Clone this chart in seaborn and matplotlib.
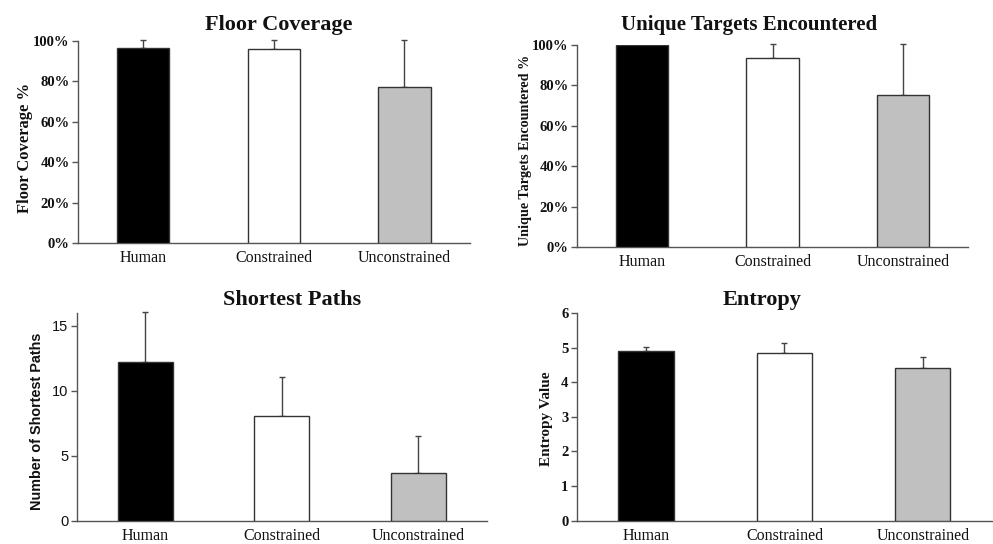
import matplotlib
matplotlib.use("Agg")
import matplotlib.pyplot as plt
import seaborn as sns
import pandas as pd
import numpy as np
from matplotlib.ticker import PercentFormatter, MultipleLocator

categories = ["Human", "Constrained", "Unconstrained"]

floor_mean = [96.5, 96.0, 77.0]
floor_err = [4.0, 4.5, 23.5]

targets_mean = [100.0, 93.5, 75.0]
targets_err = [0.0, 7.0, 25.5]

paths_mean = [12.2, 8.1, 3.65]
paths_err = [3.9, 3.0, 2.85]

entropy_mean = [4.89, 4.84, 4.41]
entropy_err = [0.14, 0.29, 0.32]

colors = ["#000000", "#ffffff", "#c0c0c0"]

sns.set_theme(style="white")
plt.rcParams["font.family"] = ["Liberation Serif", "DejaVu Serif"]

fig = plt.figure(figsize=(9.93, 5.44), dpi=100)

SERIF = ["Liberation Serif", "DejaVu Serif"]
SANS = ["Liberation Sans", "DejaVu Sans"]

panels = [
    dict(title="Floor Coverage", ylabel="Floor Coverage %", mean=floor_mean, err=floor_err,
         pos=[0.0785, 0.5533, 0.3945, 0.3713], ylim=(0, 100), step=20, pct=True,
         ylfs=12, tickfam=SERIF, ylfam=SERIF, tfs=16, tx=0.513, ty=1.079, lx=-0.115, ly=0.47),
    dict(title="Unique Targets Encountered", ylabel="Unique Targets Encountered %", mean=targets_mean,
         err=targets_err, pos=[0.581, 0.546, 0.394, 0.3713], ylim=(0, 100), step=20, pct=True,
         ylfs=10.2, tickfam=SERIF, ylfam=SERIF, tfs=15, tx=0.441, ty=1.099, lx=-0.115, ly=0.48),
    dict(title="Shortest Paths", ylabel="Number of Shortest Paths", mean=paths_mean, err=paths_err,
         pos=[0.0775, 0.0428, 0.4125, 0.3818], ylim=(0, 16), step=5, pct=False,
         ylfs=10.4, tickfam=SANS, ylfam=SANS, tfs=16, tx=0.526, ty=1.062, lx=-0.081, ly=0.48),
    dict(title="Entropy", ylabel="Entropy Value", mean=entropy_mean, err=entropy_err,
         pos=[0.581, 0.0428, 0.418, 0.3818], ylim=(0, 6), step=1, pct=False,
         ylfs=11, tickfam=SERIF, ylfam=SERIF, tfs=16, tx=0.446, ty=1.062, lx=-0.058, ly=0.49),
]

for p in panels:
    ax = fig.add_axes(p["pos"])
    df = pd.DataFrame({"cat": categories, "val": p["mean"]})
    sns.barplot(data=df, x="cat", y="val", hue="cat", palette=colors, order=categories,
                hue_order=categories, width=0.4, edgecolor="#333333", linewidth=1.0,
                errorbar=None, legend=False, ax=ax, zorder=3)
    xs = np.arange(len(categories))
    m = np.array(p["mean"])
    e = np.array(p["err"])
    keep = e > 0
    ax.errorbar(xs[keep], m[keep], yerr=[np.zeros(keep.sum()), e[keep]], fmt="none",
                ecolor="#444444", elinewidth=1.0, capsize=2.2, capthick=1.0, clip_on=False,
                zorder=2)
    ax.set_xlim(-0.5, 2.5)
    ax.set_ylim(*p["ylim"])
    ax.yaxis.set_major_locator(MultipleLocator(p["step"]))
    if p["pct"]:
        ax.yaxis.set_major_formatter(PercentFormatter(xmax=100, decimals=0))
    for s in ["top", "right"]:
        ax.spines[s].set_visible(False)
    for s in ["left", "bottom"]:
        ax.spines[s].set_color("#555555")
        ax.spines[s].set_linewidth(1.0)
    ax.tick_params(axis="y", direction="out", length=4, width=1, color="#555555", pad=2,
                   left=True)
    ax.tick_params(axis="x", length=0, pad=5)
    ax.set_xlabel("")
    ax.set_ylabel(p["ylabel"], family=p["ylfam"], fontweight="bold", fontsize=p["ylfs"],
                  color="#111111")
    ax.yaxis.set_label_coords(p["lx"], p["ly"])
    ax.set_title(p["title"], family=SERIF, fontweight="bold", fontsize=p["tfs"],
                 color="#111111", x=p["tx"], y=p["ty"], va="center", pad=0)
    for lab in ax.get_yticklabels():
        lab.set_family(p["tickfam"])
        lab.set_fontsize(10.5)
        lab.set_color("#111111")
        if p["tickfam"] == SERIF:
            lab.set_fontweight("bold")
    for lab in ax.get_xticklabels():
        lab.set_family(SERIF)
        lab.set_fontsize(11.5)
        lab.set_color("#111111")
    ax.grid(False)

fig.savefig("out.png", dpi=100)
